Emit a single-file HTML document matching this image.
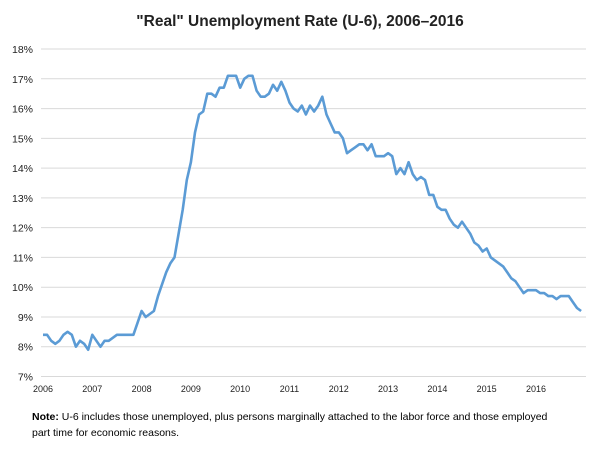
<!DOCTYPE html>
<html><head><meta charset="utf-8"><style>
body{margin:0;background:#fff;width:600px;height:450px;overflow:hidden;font-family:"Liberation Sans",sans-serif}
</style></head><body>
<svg width="600" height="450" id="c">
<text x="300" y="26" text-anchor="middle" font-size="15.5" font-weight="bold" fill="#222">"Real" Unemployment Rate (U-6), 2006–2016</text>
<g id="grid"></g><g id="ylab"></g><g id="xlab"></g>
<path id="line" fill="none" stroke="#5b9bd5" stroke-width="2.6" stroke-linejoin="round"/>
<text x="32" y="420" font-size="10.5" fill="#000"><tspan font-weight="bold">Note:</tspan> U-6 includes those unemployed, plus persons marginally attached to the labor force and those employed</text>
<text x="32" y="436" font-size="10.5" fill="#000">part time for economic reasons.</text>
</svg>
<script>
const years=["2006","2007","2008","2009","2010","2011","2012","2013","2014","2015","2016"];
const yTicks=[7,8,9,10,11,12,13,14,15,16,17,18];
const values=[8.4,8.4,8.2,8.1,8.2,8.4,8.5,8.4,8.0,8.2,8.1,7.9,
8.4,8.2,8.0,8.2,8.2,8.3,8.4,8.4,8.4,8.4,8.4,8.8,
9.2,9.0,9.1,9.2,9.7,10.1,10.5,10.8,11.0,11.8,12.6,13.6,
14.2,15.2,15.8,15.9,16.5,16.5,16.4,16.7,16.7,17.1,17.1,17.1,
16.7,17.0,17.1,17.1,16.6,16.4,16.4,16.5,16.8,16.6,16.9,16.6,
16.2,16.0,15.9,16.1,15.8,16.1,15.9,16.1,16.4,15.8,15.5,15.2,
15.2,15.0,14.5,14.6,14.7,14.8,14.8,14.6,14.8,14.4,14.4,14.4,
14.5,14.4,13.8,14.0,13.8,14.2,13.8,13.6,13.7,13.6,13.1,13.1,
12.7,12.6,12.6,12.3,12.1,12.0,12.2,12.0,11.8,11.5,11.4,11.2,
11.3,11.0,10.9,10.8,10.7,10.5,10.3,10.2,10.0,9.8,9.9,9.9,
9.9,9.8,9.8,9.7,9.7,9.6,9.7,9.7,9.7,9.5,9.3,9.2];
const NS="http://www.w3.org/2000/svg";
const x0=43,step=4.108,gl=41,gr=586;
const y=v=>376.5-(v-7)*29.77;
const x=i=>x0+i*step;
const g=document.getElementById('grid'),yl=document.getElementById('ylab'),xl=document.getElementById('xlab');
yTicks.forEach(t=>{
 const l=document.createElementNS(NS,'line');
 l.setAttribute('x1',gl);l.setAttribute('x2',gr);l.setAttribute('y1',y(t));l.setAttribute('y2',y(t));
 l.setAttribute('stroke','#d9d9d9');l.setAttribute('stroke-width','1');
 
 
 g.appendChild(l);
 const tx=document.createElementNS(NS,'text');
 tx.setAttribute('x',33);tx.setAttribute('y',y(t)+4);tx.setAttribute('text-anchor','end');tx.setAttribute('font-size','10.5');tx.setAttribute('fill','#222');
 tx.textContent=t+'%';
 
 
 yl.appendChild(tx);
});
years.forEach((yr,k)=>{
 const tx=document.createElementNS(NS,'text');
 tx.setAttribute('x',x(k*12));tx.setAttribute('y',392);tx.setAttribute('text-anchor','middle');tx.setAttribute('font-size','9');tx.setAttribute('fill','#222');
 tx.textContent=yr;
 
 
 xl.appendChild(tx);
});
document.getElementById('line').setAttribute('d',values.map((v,i)=>(i?'L':'M')+x(i).toFixed(1)+' '+y(v).toFixed(1)).join(''));
</script>
</body></html>
